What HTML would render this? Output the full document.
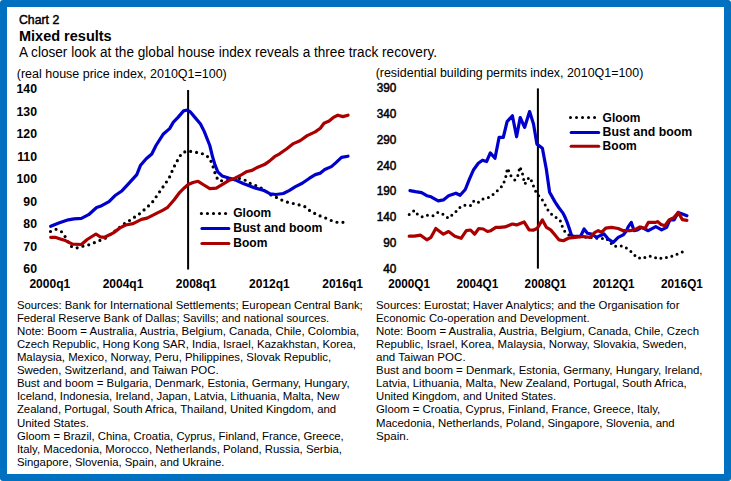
<!DOCTYPE html><html><head><meta charset="utf-8"><style>html,body{margin:0;padding:0;background:#fff;width:731px;height:481px;overflow:hidden}svg{display:block}text{font-family:"Liberation Sans",sans-serif;fill:#000}</style></head><body>
<svg width="731" height="481" viewBox="0 0 731 481">
<rect x="0" y="0" width="731" height="481" rx="3" ry="3" fill="#0070C0"/>
<rect x="7" y="7" width="717" height="467" fill="#fff"/>
<text x="19" y="23.8" font-size="12.2" stroke="#000" stroke-width="0.45" textLength="40.2" lengthAdjust="spacingAndGlyphs">Chart 2</text>
<text x="19" y="40.5" font-size="14.5" font-weight="bold">Mixed results</text>
<text x="19" y="56.9" font-size="14" textLength="418" lengthAdjust="spacingAndGlyphs">A closer look at the global house index reveals a three track recovery.</text>
<text x="16.8" y="77.5" font-size="12.5" textLength="210" lengthAdjust="spacingAndGlyphs">(real house price index, 2010Q1=100)</text>
<text x="375.7" y="76.6" font-size="12.4" textLength="267.6" lengthAdjust="spacingAndGlyphs">(residential building permits index, 2010Q1=100)</text>
<text x="37" y="93.0" font-size="12.3" font-weight="bold" text-anchor="end">140</text>
<text x="37" y="115.5" font-size="12.3" font-weight="bold" text-anchor="end">130</text>
<text x="37" y="138.0" font-size="12.3" font-weight="bold" text-anchor="end">120</text>
<text x="37" y="160.5" font-size="12.3" font-weight="bold" text-anchor="end">110</text>
<text x="37" y="183.0" font-size="12.3" font-weight="bold" text-anchor="end">100</text>
<text x="37" y="205.5" font-size="12.3" font-weight="bold" text-anchor="end">90</text>
<text x="37" y="228.0" font-size="12.3" font-weight="bold" text-anchor="end">80</text>
<text x="37" y="250.5" font-size="12.3" font-weight="bold" text-anchor="end">70</text>
<text x="37" y="273.0" font-size="12.3" font-weight="bold" text-anchor="end">60</text>
<text x="396.4" y="92.0" font-size="12.3" stroke="#000" stroke-width="0.5" text-anchor="end" textLength="19.6" lengthAdjust="spacingAndGlyphs">390</text>
<text x="396.4" y="117.8" font-size="12.3" stroke="#000" stroke-width="0.5" text-anchor="end" textLength="19.6" lengthAdjust="spacingAndGlyphs">340</text>
<text x="396.4" y="143.7" font-size="12.3" stroke="#000" stroke-width="0.5" text-anchor="end" textLength="19.6" lengthAdjust="spacingAndGlyphs">290</text>
<text x="396.4" y="169.5" font-size="12.3" stroke="#000" stroke-width="0.5" text-anchor="end" textLength="19.6" lengthAdjust="spacingAndGlyphs">240</text>
<text x="396.4" y="195.3" font-size="12.3" stroke="#000" stroke-width="0.5" text-anchor="end" textLength="19.6" lengthAdjust="spacingAndGlyphs">190</text>
<text x="396.4" y="221.1" font-size="12.3" stroke="#000" stroke-width="0.5" text-anchor="end" textLength="19.6" lengthAdjust="spacingAndGlyphs">140</text>
<text x="396.4" y="247.0" font-size="12.3" stroke="#000" stroke-width="0.5" text-anchor="end" textLength="13.1" lengthAdjust="spacingAndGlyphs">90</text>
<text x="396.4" y="272.8" font-size="12.3" stroke="#000" stroke-width="0.5" text-anchor="end" textLength="13.1" lengthAdjust="spacingAndGlyphs">40</text>
<text x="49.8" y="288" font-size="12" font-weight="bold" text-anchor="middle">2000q1</text>
<text x="123.0" y="288" font-size="12" font-weight="bold" text-anchor="middle">2004q1</text>
<text x="196.2" y="288" font-size="12" font-weight="bold" text-anchor="middle">2008q1</text>
<text x="269.4" y="288" font-size="12" font-weight="bold" text-anchor="middle">2012q1</text>
<text x="342.6" y="288" font-size="12" font-weight="bold" text-anchor="middle">2016q1</text>
<text x="409.1" y="288" font-size="12.4" font-weight="bold" text-anchor="middle" textLength="41.8" lengthAdjust="spacingAndGlyphs">2000Q1</text>
<text x="477.3" y="288" font-size="12.4" font-weight="bold" text-anchor="middle" textLength="41.8" lengthAdjust="spacingAndGlyphs">2004Q1</text>
<text x="545.5" y="288" font-size="12.4" font-weight="bold" text-anchor="middle" textLength="41.8" lengthAdjust="spacingAndGlyphs">2008Q1</text>
<text x="613.7" y="288" font-size="12.4" font-weight="bold" text-anchor="middle" textLength="41.8" lengthAdjust="spacingAndGlyphs">2012Q1</text>
<text x="681.9" y="288" font-size="12.4" font-weight="bold" text-anchor="middle" textLength="41.8" lengthAdjust="spacingAndGlyphs">2016Q1</text>
<rect x="187.1" y="90" width="2" height="179.5" fill="#000"/>
<rect x="536.9" y="88.4" width="2" height="180.2" fill="#000"/>
<g fill="none" stroke-linejoin="round" stroke-linecap="round">
<polyline points="50.5,231.5 55.9,229.3 61.3,231.5 64.9,236.3 70.5,246.0 76.0,248.2 81.7,246.4 87.2,245.3 92.7,243.5 98.2,240.9 103.6,239.5 113.4,232.2 118.0,228.6 122.6,224.8 128.1,221.5 133.0,218.1 137.9,215.0 142.6,211.3 152.1,202.6 162.1,188.2 169.0,178.3 173.6,167.7 179.4,156.8 182.6,152.5 188.3,151.1 194.8,152.1 199.6,152.9 205.4,154.7 209.8,158.6 212.0,163.8 214.1,169.7 215.9,176.2 218.8,180.9 226.0,180.5 233.0,179.5 239.6,178.4 246.2,180.6 251.3,184.2 256.4,185.7 261.5,188.2 266.0,191.5 271.0,195.0 277.5,197.9 282.6,200.5 288.4,202.5 294.2,203.7 299.6,205.1 305.4,206.9 310.2,211.0 315.0,213.6 320.4,216.1 326.3,218.3 332.1,220.9 337.2,222.3 343.0,222.3" stroke="#000" stroke-width="3.2" stroke-dasharray="0 6.0"/>
<polyline points="50.7,226.3 59.5,222.7 68.3,219.8 74.1,218.8 81.4,218.4 88.6,214.7 96.6,207.5 100.3,206.3 109.0,201.6 114.8,195.8 122.1,190.7 128.4,183.9 136.8,174.6 140.6,165.2 146.2,158.7 151.8,154.0 156.0,145.5 163.1,134.3 169.6,128.6 173.4,122.1 178.0,117.4 183.6,110.9 187.4,110.0 190.2,111.8 194.9,117.4 200.5,124.0 204.2,131.4 209.8,145.5 212.7,157.3 214.9,164.6 217.8,171.8 222.1,175.9 228.7,178.0 235.2,179.9 243.2,183.5 249.1,185.7 254.9,187.9 262.2,190.0 264.4,190.6 270.2,193.8 276.0,194.5 283.3,193.5 289.1,190.6 295.0,186.9 302.2,183.3 309.5,178.2 315.3,174.6 320.4,173.1 324.8,169.5 331.4,166.6 335.7,162.9 341.5,157.4 348.0,156.2" stroke="#0000CC" stroke-width="3.2"/>
<polyline points="50.7,237.3 55.2,237.3 59.5,238.7 65.4,240.6 72.6,244.1 81.4,244.5 87.2,239.5 95.9,234.0 100.3,236.8 104.6,237.3 113.4,232.9 120.0,227.9 125.6,225.0 133.1,223.7 141.5,219.4 147.1,218.1 155.5,213.8 163.0,210.1 167.7,207.3 174.2,199.8 179.8,192.3 184.5,187.7 188.2,184.5 193.0,182.5 198.1,181.3 203.9,185.0 209.8,188.6 216.3,188.2 222.9,184.2 228.7,180.6 234.5,178.4 240.3,175.5 246.2,171.8 252.0,170.4 257.8,167.2 264.4,164.6 269.4,161.1 274.5,156.7 279.6,153.8 286.8,148.7 293.4,143.6 300.0,140.7 307.2,135.6 315.2,131.9 320.3,128.3 324.0,123.2 329.1,121.0 333.4,117.4 337.8,115.2 342.9,116.6 348.0,115.2" stroke="#AA0000" stroke-width="3.2"/>
<polyline points="409.2,214.4 414.4,210.3 417.9,214.8 422.7,216.9 427.9,215.0 433.1,215.7 438.2,212.3 443.4,214.4 448.2,218.2 452.8,214.4 456.9,210.7 461.1,206.1 466.3,205.1 471.1,205.7 474.2,200.5 478.7,202.4 483.4,198.8 489.1,197.4 493.6,194.1 498.3,189.9 502.4,185.8 504.6,180.8 506.3,175.0 507.4,168.2 509.1,171.6 511.3,176.6 514.9,180.0 517.9,175.3 519.9,166.6 522.4,173.3 523.6,179.1 524.9,184.1 527.4,179.1 530.2,177.5 532.4,183.3 534.5,188.6 536.9,194.1 541.5,198.6 544.5,203.6 547.3,209.1 550.8,213.6 555.8,217.4 560.0,219.9 562.0,225.7 564.1,230.7 568.3,234.9 575.0,236.5 583.0,237.0 590.7,237.4 595.7,238.2 600.5,238.8 606.0,237.9 609.8,242.1 614.4,246.5 619.9,245.7 624.0,246.5 628.5,249.5 633.0,253.2 636.6,257.4 642.1,258.7 647.5,256.2 652.9,256.5 658.3,259.0 663.8,257.4 669.6,257.4 674.9,254.9 679.9,253.2 684.0,251.2" stroke="#000" stroke-width="3.0" stroke-dasharray="0 5.65"/>
<polyline points="410.0,190.6 415.4,191.6 421.6,192.6 426.8,195.7 431.0,196.8 438.2,200.9 443.4,199.9 448.6,195.7 455.9,193.2 460.1,195.3 465.3,189.5 469.4,179.1 473.6,169.7 478.3,163.2 482.5,160.2 486.6,161.5 490.3,152.9 495.0,158.2 499.1,137.4 503.3,137.4 507.1,121.6 512.4,115.8 516.6,136.8 520.2,117.5 524.6,127.4 529.6,111.6 533.5,124.1 536.9,144.1 542.4,148.2 546.3,169.0 549.6,192.3 555.0,201.9 558.7,207.5 563.0,213.1 565.3,217.8 567.6,223.4 569.5,229.0 571.4,235.0 573.5,236.5 580.6,236.2 584.1,229.0 587.4,233.2 591.6,234.0 596.6,237.4 599.9,235.7 604.1,234.0 608.2,239.0 613.2,242.3 618.2,237.4 623.2,234.9 626.5,230.7 628.3,226.6 631.3,222.4 634.1,230.7 637.5,229.9 641.6,227.4 648.3,230.7 655.8,226.6 661.6,229.9 666.6,227.4 669.9,219.9 674.1,219.9 678.2,212.5 682.4,214.1 686.9,215.8" stroke="#0000CC" stroke-width="3.2"/>
<polyline points="409.2,236.2 414.4,236.2 420.6,235.2 426.8,239.8 431.0,237.3 435.8,228.5 443.4,234.2 448.6,231.5 454.9,236.2 461.1,238.3 466.3,230.6 470.5,230.0 474.6,234.2 478.8,228.5 483.3,229.0 487.5,231.5 490.8,230.7 495.8,227.4 499.9,227.4 504.9,226.9 512.4,224.0 516.6,224.9 524.1,221.9 529.1,229.9 533.2,230.2 537.4,228.2 542.4,219.9 546.5,227.4 550.7,229.9 554.2,234.0 559.1,239.9 563.3,240.7 568.3,238.2 575.0,237.4 583.3,236.5 589.9,237.4 594.9,232.4 598.2,230.7 601.6,232.4 605.7,228.2 611.5,227.4 618.2,228.5 623.2,230.7 630.0,230.7 635.0,229.6 640.0,226.9 645.0,228.6 648.3,222.4 655.8,222.4 657.5,221.6 661.0,224.5 664.9,225.8 669.1,219.9 674.1,217.4 678.2,212.5 682.4,219.6 686.9,220.3" stroke="#AA0000" stroke-width="3.2"/>
<line x1="201.4" y1="213.5" x2="225.65" y2="213.5" stroke="#000" stroke-width="3.2" stroke-dasharray="0 6.05"/>
<line x1="201.9" y1="228.4" x2="228.9" y2="228.4" stroke="#0000CC" stroke-width="3"/>
<line x1="201.9" y1="243.4" x2="228.9" y2="243.4" stroke="#AA0000" stroke-width="3"/>
<line x1="570.5" y1="117.5" x2="594.55" y2="117.5" stroke="#000" stroke-width="3" stroke-dasharray="0 6.01"/>
<line x1="571.1" y1="132.4" x2="598.7" y2="132.4" stroke="#0000CC" stroke-width="3"/>
<line x1="571.1" y1="146.2" x2="598.7" y2="146.2" stroke="#AA0000" stroke-width="3"/>
</g>
<text x="233.3" y="216.9" font-size="12.2" font-weight="bold" textLength="37.9" lengthAdjust="spacingAndGlyphs">Gloom</text>
<text x="233.3" y="231.8" font-size="12.2" font-weight="bold" textLength="89.1" lengthAdjust="spacingAndGlyphs">Bust and boom</text>
<text x="233.3" y="246.9" font-size="12.2" font-weight="bold" textLength="34.1" lengthAdjust="spacingAndGlyphs">Boom</text>
<text x="602.6" y="121.9" font-size="12.2" font-weight="bold" textLength="37.9" lengthAdjust="spacingAndGlyphs">Gloom</text>
<text x="602.6" y="135.7" font-size="12.2" font-weight="bold" textLength="89.6" lengthAdjust="spacingAndGlyphs">Bust and boom</text>
<text x="602.6" y="149.6" font-size="12.2" font-weight="bold" textLength="34.1" lengthAdjust="spacingAndGlyphs">Boom</text>
<text x="16.9" y="308.6" font-size="11.37" textLength="345.88" lengthAdjust="spacingAndGlyphs">Sources: Bank for International Settlements; European Central Bank;</text>
<text x="16.9" y="321.7" font-size="11.37" textLength="312.29" lengthAdjust="spacingAndGlyphs">Federal Reserve Bank of Dallas; Savills; and national sources.</text>
<text x="16.9" y="334.8" font-size="11.37" textLength="342.27" lengthAdjust="spacingAndGlyphs">Note: Boom = Australia, Austria, Belgium, Canada, Chile, Colombia,</text>
<text x="16.9" y="347.9" font-size="11.37" textLength="339.02" lengthAdjust="spacingAndGlyphs">Czech Republic, Hong Kong SAR, India, Israel, Kazakhstan, Korea,</text>
<text x="16.9" y="361.0" font-size="11.37" textLength="314.26" lengthAdjust="spacingAndGlyphs">Malaysia, Mexico, Norway, Peru, Philippines, Slovak Republic,</text>
<text x="16.9" y="374.1" font-size="11.37" textLength="201.78" lengthAdjust="spacingAndGlyphs">Sweden, Switzerland, and Taiwan POC.</text>
<text x="16.9" y="387.2" font-size="11.37" textLength="332.69" lengthAdjust="spacingAndGlyphs">Bust and boom = Bulgaria, Denmark, Estonia, Germany, Hungary,</text>
<text x="16.9" y="400.3" font-size="11.37" textLength="322.68" lengthAdjust="spacingAndGlyphs">Iceland, Indonesia, Ireland, Japan, Latvia, Lithuania, Malta, New</text>
<text x="16.9" y="413.4" font-size="11.37" textLength="319.22" lengthAdjust="spacingAndGlyphs">Zealand, Portugal, South Africa, Thailand, United Kingdom, and</text>
<text x="16.9" y="426.5" font-size="11.37" textLength="72.03" lengthAdjust="spacingAndGlyphs">United States.</text>
<text x="16.9" y="439.6" font-size="11.37" textLength="326.88" lengthAdjust="spacingAndGlyphs">Gloom = Brazil, China, Croatia, Cyprus, Finland, France, Greece,</text>
<text x="16.9" y="452.7" font-size="11.37" textLength="325.13" lengthAdjust="spacingAndGlyphs">Italy, Macedonia, Morocco, Netherlands, Poland, Russia, Serbia,</text>
<text x="16.9" y="465.8" font-size="11.37" textLength="207.55" lengthAdjust="spacingAndGlyphs">Singapore, Slovenia, Spain, and Ukraine.</text>
<text x="376" y="308.6" font-size="11.37" textLength="303.46" lengthAdjust="spacingAndGlyphs">Sources: Eurostat; Haver Analytics; and the Organisation for</text>
<text x="376" y="321.7" font-size="11.37" textLength="213.65" lengthAdjust="spacingAndGlyphs">Economic Co-operation and Development.</text>
<text x="376" y="334.8" font-size="11.37" textLength="323.0" lengthAdjust="spacingAndGlyphs">Note: Boom = Australia, Austria, Belgium, Canada, Chile, Czech</text>
<text x="376" y="347.9" font-size="11.37" textLength="310.68" lengthAdjust="spacingAndGlyphs">Republic, Israel, Korea, Malaysia, Norway, Slovakia, Sweden,</text>
<text x="376" y="361.0" font-size="11.37" textLength="89.6" lengthAdjust="spacingAndGlyphs">and Taiwan POC.</text>
<text x="376" y="374.1" font-size="11.37" textLength="326.54" lengthAdjust="spacingAndGlyphs">Bust and boom = Denmark, Estonia, Germany, Hungary, Ireland,</text>
<text x="376" y="387.2" font-size="11.37" textLength="310.7" lengthAdjust="spacingAndGlyphs">Latvia, Lithuania, Malta, New Zealand, Portugal, South Africa,</text>
<text x="376" y="400.3" font-size="11.37" textLength="180.16" lengthAdjust="spacingAndGlyphs">United Kingdom, and United States.</text>
<text x="376" y="413.4" font-size="11.37" textLength="284.24" lengthAdjust="spacingAndGlyphs">Gloom = Croatia, Cyprus, Finland, France, Greece, Italy,</text>
<text x="376" y="426.5" font-size="11.37" textLength="298.65" lengthAdjust="spacingAndGlyphs">Macedonia, Netherlands, Poland, Singapore, Slovenia, and</text>
<text x="376" y="439.6" font-size="11.37" textLength="32.99" lengthAdjust="spacingAndGlyphs">Spain.</text>
</svg></body></html>
